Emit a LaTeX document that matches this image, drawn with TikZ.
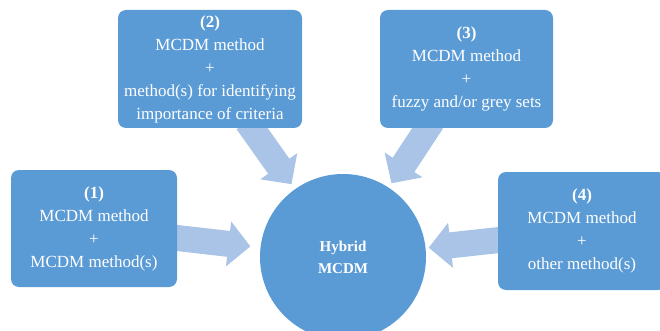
\documentclass[tikz,border=0pt]{standalone}
\usepackage{fontspec}
\setmainfont{Liberation Serif}
\usetikzlibrary{arrows.meta}
\definecolor{boxblue}{HTML}{5B9BD5}
\definecolor{arrowblue}{HTML}{A9C4E6}
\pgfdeclarelayer{back}
\pgfsetlayers{back,main}

\begin{document}
\begin{tikzpicture}[x=1pt,y=-1pt,
  methodbox/.style={fill=boxblue, rounded corners=8pt, text=white, align=center,
    font=\fontsize{17}{23}\selectfont, inner sep=0pt},
  hubnode/.style={circle, fill=boxblue, text=white, align=center,
    font=\fontsize{15}{22}\selectfont\bfseries, minimum size=166pt, inner sep=0pt},
  blockarrow/.style={draw=arrowblue, line width=26pt,
    -{Triangle[width=44pt,length=22pt]}, shorten <=-8pt}
]
\useasboundingbox (0,0) rectangle (660,331);
\clip (0,0) rectangle (660,331);

% method combinations
\node[methodbox, minimum width=166pt, minimum height=117pt] (b1) at (94,228.5)
  {\textbf{(1)}\\MCDM method\\+\\MCDM method(s)};
\node[methodbox, minimum width=184pt, minimum height=118pt] (b2) at (210,69)
  {\textbf{(2)}\\MCDM method\\+\\method(s) for identifying\\importance of criteria};
\node[methodbox, minimum width=173pt, minimum height=118pt] (b3) at (466.5,69)
  {\textbf{(3)}\\MCDM method\\+\\fuzzy and/or grey sets};
\node[methodbox, minimum width=168pt, minimum height=118pt] (b4) at (582,231)
  {\textbf{(4)}\\MCDM method\\+\\other method(s)};

% central result
\node[hubnode] (hub) at (343,257) {Hybrid\\MCDM};

% block arrows into the hub
\begin{pgfonlayer}{back}
  \draw[blockarrow, shorten >=10pt] (b1) -- (hub);
  \draw[blockarrow, shorten >=6pt] (b2) -- (hub);
  \draw[blockarrow, shorten >=5pt] (b3) -- (hub);
  \draw[blockarrow, shorten >=3pt] (b4) -- (hub);
\end{pgfonlayer}
\end{tikzpicture}
\end{document}
